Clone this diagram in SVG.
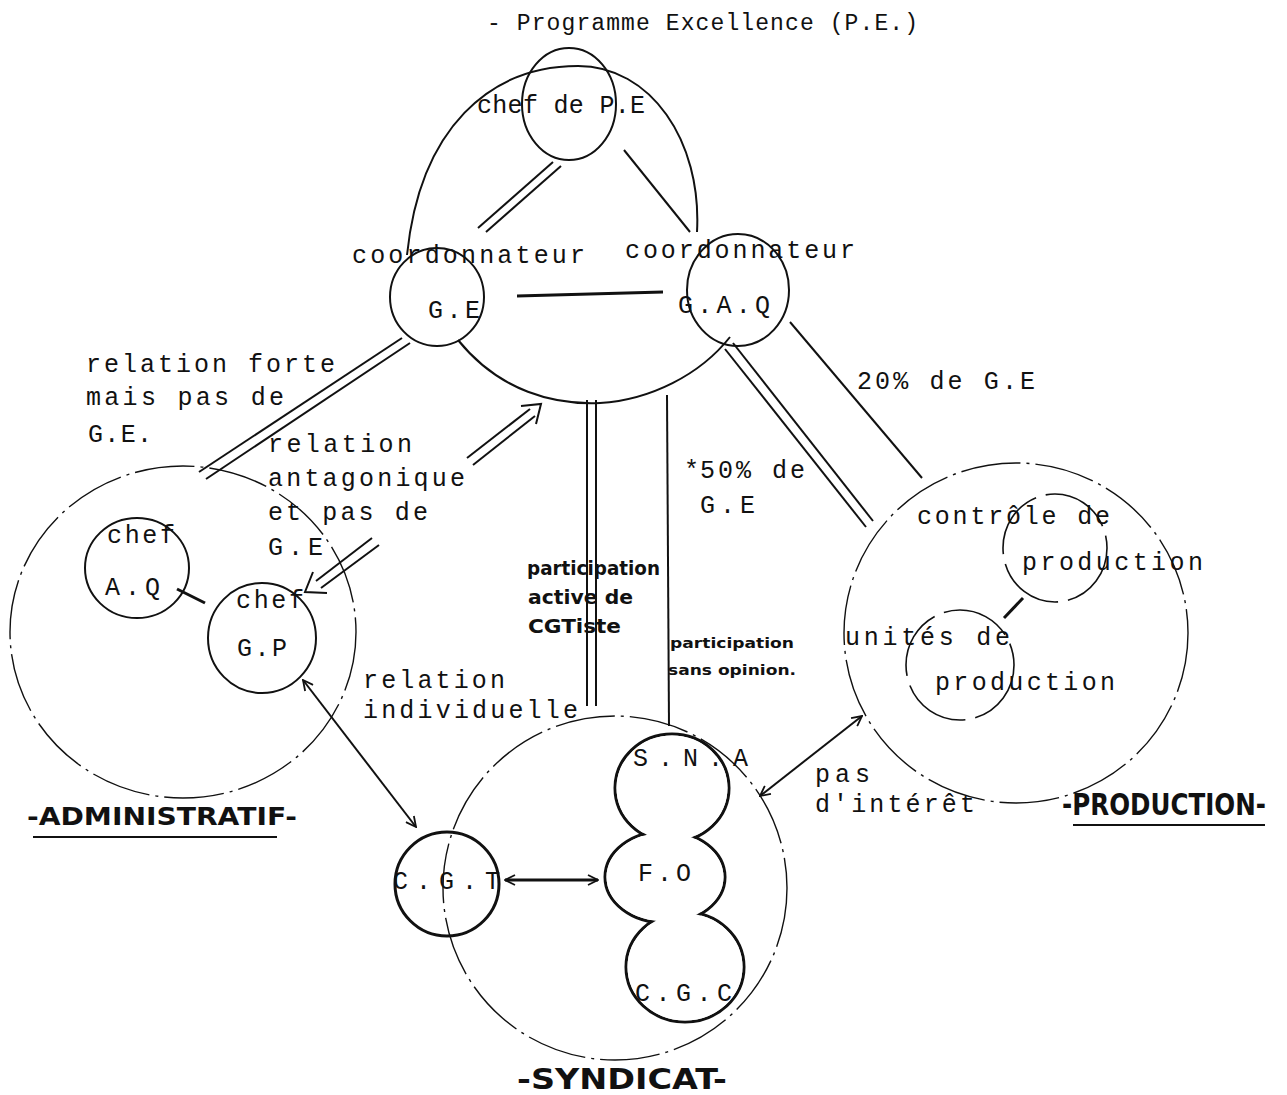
<svg xmlns="http://www.w3.org/2000/svg" width="1287" height="1095" viewBox="0 0 1287 1095">
<defs>
<style>
.t{font-family:"Liberation Mono",monospace;font-size:25px;fill:#111}
.ti{font-family:"Liberation Mono",monospace;font-size:23px;fill:#111}
.h{font-family:"DejaVu Sans",sans-serif;font-weight:bold;fill:#111}
.s{stroke:#111;fill:none;stroke-width:2}
.b{stroke:#111;fill:none;stroke-width:3}
.w{fill:#fff;stroke:none}
.d{stroke:#111;fill:none;stroke-width:1.4;stroke-dasharray:60 6 3 6}
.p{stroke:#111;fill:none;stroke-width:1.6;stroke-dasharray:70 10}
</style>
<marker id="ah" viewBox="0 0 12 12" refX="11" refY="6" markerWidth="12" markerHeight="12" markerUnits="userSpaceOnUse" orient="auto-start-reverse">
<path d="M1,1 L11,6 L1,11" fill="none" stroke="#111" stroke-width="1.8"/>
</marker>
</defs>
<rect width="1287" height="1095" fill="#fff"/>

<text class="ti" x="487" y="30" textLength="431" lengthAdjust="spacing">- Programme Excellence (P.E.)</text>

<g id="programme-excellence">
<path class="s" d="M697,232 C702,140 650,66 578,66 C490,66 420,128 407,255"/>
<path class="s" d="M458,340 C500,392 555,405 600,403 C650,400 700,375 730,337"/>
</g>

<g id="chef-pe">
<ellipse class="s" cx="569" cy="104" rx="47" ry="56"/>
<text class="t" x="477" y="113" textLength="168" lengthAdjust="spacing">chef de P.E</text>
</g>

<g id="coord-ge">
<ellipse class="s" cx="437" cy="297" rx="47" ry="49"/>
<text class="t" x="352" y="263" textLength="233" lengthAdjust="spacing">coordonnateur</text>
<text class="t" x="428" y="318" textLength="52" lengthAdjust="spacing">G.E</text>
</g>

<g id="coord-gaq">
<ellipse class="s" cx="738" cy="290" rx="51" ry="56"/>
<text class="t" x="625" y="258" textLength="230" lengthAdjust="spacing">coordonnateur</text>
<text class="t" x="678" y="313" textLength="92" lengthAdjust="spacing">G.A.Q</text>
</g>

<g id="administratif">
<ellipse class="d" cx="183" cy="632" rx="173" ry="166"/>
<text class="h" x="27" y="825" font-size="25" textLength="270" lengthAdjust="spacingAndGlyphs">-ADMINISTRATIF-</text>
<line class="s" x1="33" y1="837" x2="277" y2="837"/>
</g>

<g id="chef-aq">
<ellipse class="s" cx="137" cy="568" rx="52" ry="50"/>
<text class="t" x="107" y="543" textLength="68" lengthAdjust="spacing">chef</text>
<text class="t" x="105" y="595" textLength="55" lengthAdjust="spacing">A.Q</text>
</g>

<g id="chef-gp">
<ellipse class="s" cx="262" cy="638" rx="54" ry="55"/>
<text class="t" x="236" y="608" textLength="68" lengthAdjust="spacing">chef</text>
<text class="t" x="237" y="656" textLength="50" lengthAdjust="spacing">G.P</text>
</g>

<g id="production">
<ellipse class="d" cx="1016" cy="633" rx="172" ry="170"/>
<text class="h" transform="translate(1062,815) scale(1,1.25)" x="0" y="0" font-size="24" textLength="204" lengthAdjust="spacingAndGlyphs">-PRODUCTION-</text>
<line class="s" x1="1073" y1="825" x2="1265" y2="825"/>
</g>

<g id="controle-production">
<ellipse class="p" cx="1055" cy="548" rx="52" ry="54"/>
<text class="t" x="917" y="524" textLength="193" lengthAdjust="spacing">contrôle de</text>
<text class="t" x="1022" y="570" textLength="181" lengthAdjust="spacing">production</text>
</g>

<g id="unites-production">
<ellipse class="p" cx="960" cy="665" rx="54" ry="55"/>
<text class="t" x="845" y="645" textLength="165" lengthAdjust="spacing">unités de</text>
<text class="t" x="935" y="690" textLength="180" lengthAdjust="spacing">production</text>
</g>

<g id="syndicat">
<ellipse class="d" cx="615" cy="888" rx="172" ry="172"/>
<text class="h" x="517" y="1089" font-size="28" textLength="210" lengthAdjust="spacingAndGlyphs">-SYNDICAT-</text>
</g>

<g id="cgt">
<circle class="b" cx="447" cy="884" r="52"/>
<text class="t" x="393" y="889" textLength="107" lengthAdjust="spacing">C.G.T</text>
</g>

<g id="union-outline">
<ellipse class="b" cx="672" cy="788" rx="57" ry="54"/>
<ellipse class="b" cx="665" cy="877" rx="60" ry="46"/>
<ellipse class="b" cx="685" cy="967" rx="59" ry="55"/>
<ellipse class="w" cx="672" cy="788" rx="55.5" ry="52.5"/>
<ellipse class="w" cx="665" cy="877" rx="58.5" ry="44.5"/>
<ellipse class="w" cx="685" cy="967" rx="57.5" ry="53.5"/>
</g>

<g id="sna">
<text class="t" x="633" y="766" textLength="115" lengthAdjust="spacing">S.N.A</text>
</g>

<g id="fo">
<text class="t" x="638" y="881" textLength="53" lengthAdjust="spacing">F.O</text>
</g>

<g id="cgc">
<text class="t" x="635" y="1001" textLength="97" lengthAdjust="spacing">C.G.C</text>
</g>

<g id="connectors">
<line class="s" x1="553" y1="162" x2="478" y2="228"/>
<line class="s" x1="561" y1="166" x2="486" y2="232"/>
<line class="s" x1="624" y1="150" x2="690" y2="232"/>
<line class="b" x1="517" y1="296" x2="663" y2="292"/>
<line class="s" x1="402" y1="338" x2="199" y2="472"/>
<line class="s" x1="410" y1="343" x2="206" y2="479"/>
<line class="s" x1="587" y1="400" x2="587" y2="706"/>
<line class="s" x1="596" y1="400" x2="596" y2="706"/>
<line class="s" x1="667" y1="395" x2="669" y2="726"/>
<line class="s" x1="725" y1="349" x2="866" y2="527"/>
<line class="s" x1="733" y1="343" x2="873" y2="521"/>
<line class="s" x1="790" y1="322" x2="922" y2="478"/>
<line class="b" x1="177" y1="589" x2="205" y2="603"/>
<line class="b" x1="1023" y1="598" x2="1004" y2="618"/>
<line class="s" x1="303" y1="680" x2="416" y2="827" marker-start="url(#ah)" marker-end="url(#ah)"/>
<line class="b" x1="505" y1="880" x2="598" y2="880" marker-start="url(#ah)" marker-end="url(#ah)"/>
<line class="s" x1="760" y1="796" x2="862" y2="716" marker-start="url(#ah)" marker-end="url(#ah)"/>
<line class="s" x1="467" y1="458" x2="530" y2="409"/>
<line class="s" x1="473" y1="465" x2="535" y2="416"/>
<path class="s" d="M521,406 L541,404 L536,424"/>
<line class="s" x1="372" y1="538" x2="316" y2="581"/>
<line class="s" x1="379" y1="545" x2="321" y2="588"/>
<path class="s" d="M313,572 L305,592 L327,593"/>
</g>

<g id="labels">
<text class="t" x="86" y="372" textLength="249" lengthAdjust="spacing">relation forte</text>
<text class="t" x="86" y="405" textLength="198" lengthAdjust="spacing">mais pas de</text>
<text class="t" x="88" y="442" textLength="64" lengthAdjust="spacing">G.E.</text>
<text class="t" x="268" y="452" textLength="144" lengthAdjust="spacing">relation</text>
<text class="t" x="268" y="486" textLength="197" lengthAdjust="spacing">antagonique</text>
<text class="t" x="268" y="520" textLength="160" lengthAdjust="spacing">et pas de</text>
<text class="t" x="268" y="555" textLength="55" lengthAdjust="spacing">G.E</text>
<text class="t" x="363" y="688" textLength="142" lengthAdjust="spacing">relation</text>
<text class="t" x="363" y="718" textLength="215" lengthAdjust="spacing">individuelle</text>
<text class="t" x="684" y="478" font-size="14">*</text>
<text class="t" x="700" y="478" textLength="105" lengthAdjust="spacing">50% de</text>
<text class="t" x="700" y="513" textLength="55" lengthAdjust="spacing">G.E</text>
<text class="t" x="857" y="389" textLength="178" lengthAdjust="spacing">20% de G.E</text>
<text class="t" x="815" y="782" textLength="55" lengthAdjust="spacing">pas</text>
<text class="t" x="815" y="812" textLength="160" lengthAdjust="spacing">d'intérêt</text>
<text class="h" x="527" y="575" font-size="19" textLength="133" lengthAdjust="spacingAndGlyphs">participation</text>
<text class="h" x="528" y="604" font-size="19" textLength="105" lengthAdjust="spacingAndGlyphs">active de</text>
<text class="h" x="528" y="633" font-size="19" textLength="93" lengthAdjust="spacingAndGlyphs">CGTiste</text>
<text class="h" x="670" y="648" font-size="14" font-weight="normal" textLength="124" lengthAdjust="spacingAndGlyphs">participation</text>
<text class="h" x="668" y="675" font-size="14" font-weight="normal" textLength="128" lengthAdjust="spacingAndGlyphs">sans opinion.</text>
</g>
</svg>
